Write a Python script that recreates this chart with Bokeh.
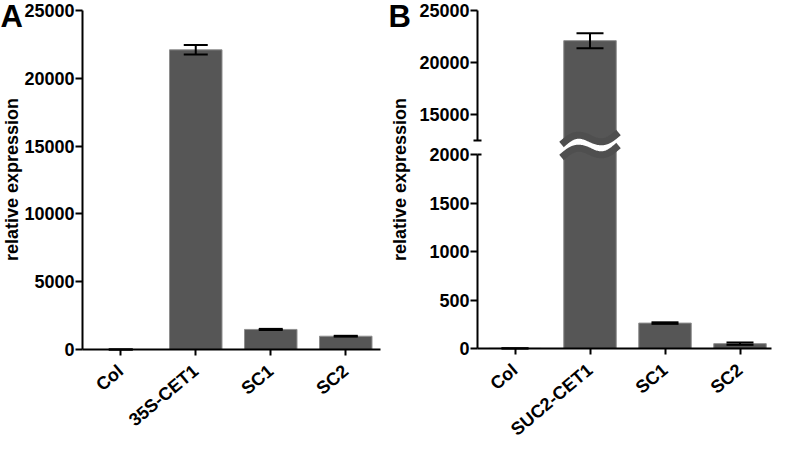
import numpy as np
from math import pi
from bokeh.plotting import figure
from bokeh.models import Range1d, LinearAxis, FixedTicker, ColumnDataSource, Grid
from bokeh.core.properties import value
from bokeh.layouts import row
from bokeh.embed import file_html
from bokeh.resources import INLINE

# ---------------- data ----------------
cats_a = ["Col", "35S-CET1", "SC1", "SC2"]
mean_a = [1.0, 22100.0, 1480.0, 980.0]
err_a = [0.5, 350.0, 40.0, 30.0]
ticks_a = [0, 5000, 10000, 15000, 20000, 25000]

cats_b = ["Col", "SUC2-CET1", "SC1", "SC2"]
mean_b = [1.0, 22100.0, 262.0, 50.0]
err_b = [0.5, 720.0, 8.0, 12.0]
ticks_b_low = [0, 500, 1000, 1500, 2000]
ticks_b_high = [15000, 20000, 25000]
break_low = 2000      # top of lower segment
break_high = 12500    # bottom of upper segment
y_max = 25000
y_label = "relative expression"

# ---------------- style / layout (pixels inside each figure) ----------------
FONT = "Liberation Sans"
BAR_FILL = "#565656"
BAR_LINE = "#8e8e8e"
WAVE = "#4f4f4f"
H = 441
CAT_PX = 75.0
LABEL_ANGLE = 40 * pi / 180

W_A = 388
AX_A = 82          # y-axis pixel x in panel A
TOP_A, ZERO_A = 10, 349

W_B = 385
AX_B = 89
TOP_B, HIGH_B, LOWTOP_B, ZERO_B = 10, 140, 154, 348
WAVE_Y0 = 144      # pixel y of the left end of the upper wave line
TITLE_Y = 179      # pixel y of the centre of the y-axis titles


def lin(p0, v0, p1, v1):
    s = (v1 - v0) / (p1 - p0)
    return lambda p: v0 + (p - p0) * s


def style_axis(ax):
    ax.axis_line_width = 2
    ax.axis_line_color = "black"
    ax.major_tick_line_width = 2
    ax.major_tick_line_color = "black"
    ax.major_tick_out = 7
    ax.major_tick_in = 0
    ax.minor_tick_line_color = None
    ax.major_label_text_font = FONT
    ax.major_label_text_font_size = "18px"
    ax.major_label_text_font_style = "bold"
    ax.major_label_text_color = "black"
    ax.major_label_standoff = 1


def make_fig(width, xr, yr):
    p = figure(width=width, height=H, x_range=xr, y_range=yr,
               output_backend="svg", toolbar_location=None,
               x_axis_location=None, y_axis_location=None,
               min_border=0)
    p.outline_line_color = None
    p.background_fill_color = "white"
    p.border_fill_color = "white"
    for r in list(p.center):
        if isinstance(r, Grid):
            r.visible = False
    return p


def add_xaxis(p, cats, x_lo, x_hi):
    ax = LinearAxis(ticker=FixedTicker(ticks=list(range(len(cats)))),
                    major_label_overrides={i: c for i, c in enumerate(cats)},
                    bounds=(x_lo, x_hi), fixed_location=0)
    style_axis(ax)
    ax.major_tick_out = 6
    ax.major_label_orientation = LABEL_ANGLE
    ax.major_label_standoff = 13
    p.add_layout(ax, "below")


def error_bars(p, xs, m, e, half, **kw):
    xs = np.asarray(xs, float)
    m = np.asarray(m, float)
    e = np.asarray(e, float)
    p.segment(x0=xs, y0=m - e, x1=xs, y1=m + e, line_width=2, line_color="black", **kw)
    p.segment(x0=xs - half, y0=m + e, x1=xs + half, y1=m + e, line_width=2, line_color="black", **kw)
    p.segment(x0=xs - half, y0=m - e, x1=xs + half, y1=m - e, line_width=2, line_color="black", **kw)


def txt(p, fx, fy, s, size, fpx, fpy, angle=0.0, align="left", baseline="top", **kw):
    p.text(x=[fpx(fx)], y=[fpy(fy)], text=[s], angle=angle,
           text_font=value(FONT), text_font_size=size, text_font_style="bold",
           text_color="black", text_align=align, text_baseline=baseline, **kw)


# ---------------- panel A ----------------
xa = list(range(len(cats_a)))
xa_lo, xa_hi = -0.51, 3.46
fxa = lin(AX_A, xa_lo, AX_A + CAT_PX, xa_lo + 1)        # pixel -> x value
fya = lin(ZERO_A, 0, TOP_A, y_max)                        # pixel -> y value
pa = make_fig(W_A, Range1d(fxa(0), fxa(W_A)), Range1d(fya(H), fya(0)))

ya_ax = LinearAxis(ticker=FixedTicker(ticks=ticks_a), bounds=(0, y_max), fixed_location=xa_lo)
style_axis(ya_ax)
pa.add_layout(ya_ax, "left")
add_xaxis(pa, cats_a, xa_lo, xa_hi)

src_a = ColumnDataSource(dict(x=xa, top=mean_a))
pa.vbar(x="x", top="top", bottom=0, width=0.7, source=src_a,
        fill_color=BAR_FILL, line_color=BAR_LINE, line_width=1)
error_bars(pa, xa, mean_a, err_a, 0.16)

txt(pa, 0, -2, "A", "31px", fxa, fya)
txt(pa, 11, TITLE_Y, y_label, "18px", fxa, fya,
    angle=pi / 2, align="center", baseline="middle")

# ---------------- panel B ----------------
xb = list(range(len(cats_b)))
xb_lo, xb_hi = -0.5, 3.42
fxb = lin(AX_B, xb_lo, AX_B + CAT_PX, xb_lo + 1)
fyb = lin(ZERO_B, 0, LOWTOP_B, break_low)                  # lower segment scale
fyb_hi = lin(HIGH_B, break_high, TOP_B, y_max)              # upper segment scale
pb = make_fig(W_B, Range1d(fxb(0), fxb(W_B)), Range1d(fyb(H), fyb(0)))
pb.extra_y_ranges = {"hi": Range1d(fyb_hi(H), fyb_hi(0))}

yb_lo = LinearAxis(ticker=FixedTicker(ticks=ticks_b_low), bounds=(0, break_low), fixed_location=xb_lo)
style_axis(yb_lo)
pb.add_layout(yb_lo, "left")
yb_hi = LinearAxis(y_range_name="hi", ticker=FixedTicker(ticks=ticks_b_high),
                   bounds=(break_high, y_max), fixed_location=xb_lo)
style_axis(yb_hi)
pb.add_layout(yb_hi, "left")
add_xaxis(pb, cats_b, xb_lo, xb_hi)

mb = np.asarray(mean_b, float)
src_lo = ColumnDataSource(dict(x=xb, top=np.minimum(mb, break_low * 1.08)))
pb.vbar(x="x", top="top", bottom=0, width=0.7, source=src_lo,
        fill_color=BAR_FILL, line_color=BAR_LINE, line_width=1)
hi_idx = [i for i, v in enumerate(mean_b) if v > break_high]
lo_idx = [i for i, v in enumerate(mean_b) if v <= break_high]
src_hi = ColumnDataSource(dict(x=[xb[i] for i in hi_idx], top=[mean_b[i] for i in hi_idx]))
pb.vbar(x="x", top="top", bottom=break_high - 500, width=0.7, source=src_hi,
        fill_color=BAR_FILL, line_color=BAR_LINE, line_width=1, y_range_name="hi")

error_bars(pb, [xb[i] for i in lo_idx], [mean_b[i] for i in lo_idx], [err_b[i] for i in lo_idx], 0.18)
error_bars(pb, [xb[i] for i in hi_idx], [mean_b[i] for i in hi_idx], [err_b[i] for i in hi_idx], 0.18,
           y_range_name="hi")

# axis-break symbol drawn across the tall bar (decoration)
t = np.linspace(0, 1, 80)
for i in hi_idx:
    wx = xb[i] + (t - 0.5) * 0.76
    up_px = WAVE_Y0 - 12 * t - 6 * np.sin(2 * np.pi * t)
    lo_px = up_px + 13
    v_up = fyb(up_px)
    v_lo = fyb(lo_px)
    pb.patch(np.concatenate([wx, wx[::-1]]), np.concatenate([v_up, v_lo[::-1]]),
             fill_color="white", line_color=None)
    pb.line(wx, v_up, line_width=7, line_color=WAVE)
    pb.line(wx, v_lo, line_width=7, line_color=WAVE)

# caps at the broken ends of the y axis
cap = 4 / CAT_PX
pb.segment(x0=[xb_lo], y0=[break_low], x1=[xb_lo + cap], y1=[break_low],
           line_width=2, line_color="black")
pb.segment(x0=[xb_lo - cap], y0=[break_high], x1=[xb_lo + cap], y1=[break_high],
           line_width=2, line_color="black", y_range_name="hi")

txt(pb, 0, -2, "B", "31px", fxb, fyb)
txt(pb, 11, TITLE_Y, y_label, "18px", fxb, fyb,
    angle=pi / 2, align="center", baseline="middle")

layout = row(pa, pb)
open("out.html", "w").write(file_html(layout, INLINE))
